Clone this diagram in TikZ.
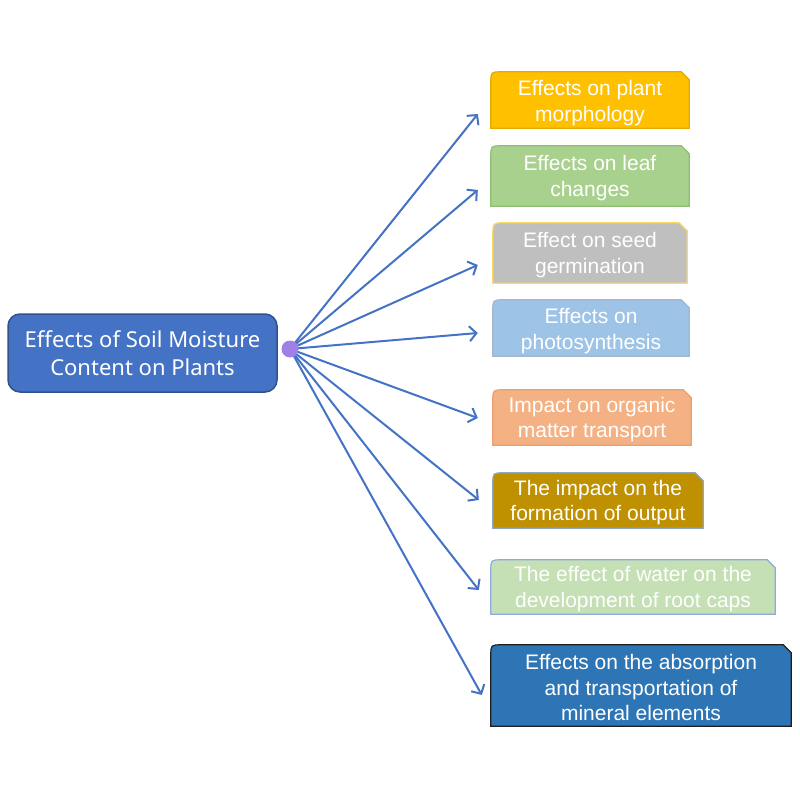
\documentclass[tikz,border=0pt]{standalone}
\usepackage{fontspec}
\setmainfont{Liberation Sans}
\newfontfamily\leftfont{Noto Sans}
\usetikzlibrary{arrows.meta,calc,backgrounds}
\definecolor{arrowblue}{HTML}{4472C4}
\definecolor{mainfill}{HTML}{4472C4}
\definecolor{maindraw}{HTML}{2F528F}
\definecolor{dotpurple}{HTML}{A07FE6}
\definecolor{cA}{HTML}{FFC000}\definecolor{dA}{HTML}{E3AA00}
\definecolor{cB}{HTML}{A9D18E}\definecolor{dB}{HTML}{8DBF70}
\definecolor{cC}{HTML}{BFBFBF}\definecolor{dC}{HTML}{FFD966}
\definecolor{cD}{HTML}{9DC3E6}\definecolor{dD}{HTML}{A3B6CC}
\definecolor{cE}{HTML}{F4B183}\definecolor{dE}{HTML}{E9A070}
\definecolor{cF}{HTML}{BF9000}\definecolor{dF}{HTML}{8FA6C4}
\definecolor{cG}{HTML}{C5E0B4}\definecolor{dG}{HTML}{8FAADC}
\definecolor{cH}{HTML}{2E75B6}\definecolor{dH}{HTML}{1F1F1F}
\newcommand{\snipshape}[3]{%
  \path[fill=#2,draw=#3,line width=1.2pt]
    (#1.south west) -- ($(#1.north west)+(0,11)$)
    .. controls (#1.north west) .. ($(#1.north west)+(11,0)$)
    -- ($(#1.north east)+(-8,0)$) -- ($(#1.north east)+(0,8)$)
    -- (#1.south east) -- cycle;}
\begin{document}
\begin{tikzpicture}[x=1pt,y=-1pt,
  rbox/.style={inner sep=0pt},
  rtext/.style={inner sep=0pt,text=white,align=center,
    font=\fontsize{21}{25.5}\selectfont},
  conn/.style={draw=arrowblue,line width=2pt,
    -{Straight Barb[length=7pt,width=15pt,line width=2pt]}}]
\useasboundingbox (0,0) rectangle (800,800);
\node[fill=mainfill,draw=maindraw,line width=1.5pt,rounded corners=12pt,
  minimum width=269pt,minimum height=78pt,inner sep=0pt,text=white,
  align=center,font=\leftfont\fontsize{22}{28}\selectfont] (main) at (142.5,353)
  {Effects of Soil Moisture\\Content on Plants};
\node[rbox,minimum width=198pt,minimum height=56pt] (b1) at (590,100) {};
\node[rbox,minimum width=198pt,minimum height=60pt] (b2) at (590,176) {};
\node[rbox,minimum width=194pt,minimum height=60pt] (b3) at (590,253) {};
\node[rbox,minimum width=196pt,minimum height=56pt] (b4) at (591,328) {};
\node[rbox,minimum width=198pt,minimum height=55pt] (b5) at (592,417.5) {};
\node[rbox,minimum width=210pt,minimum height=55pt] (b6) at (598,500.5) {};
\node[rbox,minimum width=284pt,minimum height=54pt] (b7) at (633,587) {};
\node[rbox,minimum width=300pt,minimum height=81pt] (b8) at (641,685.5) {};
\node[rtext] (t1) at ($(b1.center)+(0,3)$) {Effects on plant\\morphology};
\node[rtext] (t2) at ($(b2.center)+(0,2)$) {Effects on leaf\\changes};
\node[rtext] (t3) at ($(b3.center)+(0,2)$) {Effect on seed\\germination};
\node[rtext] (t4) at ($(b4.center)+(0,3)$) {Effects on\\photosynthesis};
\node[rtext] (t5) at ($(b5.center)+(0,2)$) {Impact on organic\\matter transport};
\node[rtext] (t6) at ($(b6.center)+(0,2)$) {The impact on the\\formation of output};
\node[rtext] (t7) at ($(b7.center)+(0,2)$) {The effect of water on the\\development of root caps};
\node[rtext] (t8) at ($(b8.center)+(0,2)$) {Effects on the absorption\\and transportation of\\mineral elements};
\begin{scope}[on background layer]
\snipshape{b1}{cA}{dA}
\snipshape{b2}{cB}{dB}
\snipshape{b3}{cC}{dC}
\snipshape{b4}{cD}{dD}
\snipshape{b5}{cE}{dE}
\snipshape{b6}{cF}{dF}
\snipshape{b7}{cG}{dG}
\snipshape{b8}{cH}{dH}
\end{scope}
\node[circle,fill=dotpurple,minimum size=17pt,inner sep=0pt] (dot) at (290,349) {};
\begin{scope}[on background layer]
\draw[conn] (dot.center) -- ($(b1.west)+(-13,14)$);
\draw[conn] (dot.center) -- ($(b2.west)+(-13,14)$);
\draw[conn] (dot.center) -- ($(b3.west)+(-15,12)$);
\draw[conn] (dot.center) -- ($(b4.west)+(-15,5)$);
\draw[conn] (dot.center) -- ($(b5.west)+(-15,0.5)$);
\draw[conn] (dot.center) -- ($(b6.west)+(-14,-0.5)$);
\draw[conn] (dot.center) -- ($(b7.west)+(-12,3)$);
\draw[conn] (dot.center) -- ($(b8.west)+(-9,9.5)$);
\end{scope}
\end{tikzpicture}
\end{document}
